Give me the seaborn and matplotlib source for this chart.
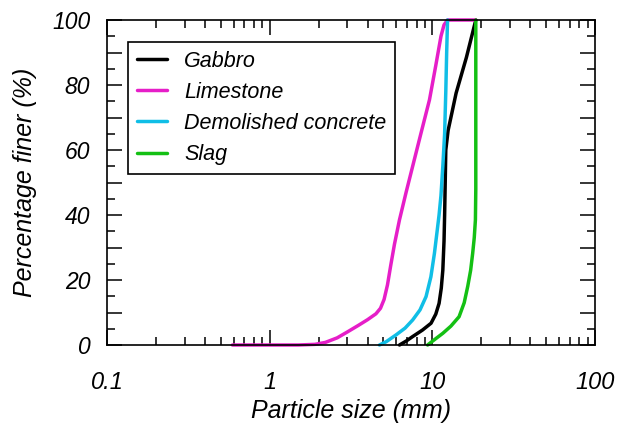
import numpy as np
import pandas as pd
import matplotlib
matplotlib.use("Agg")
import matplotlib.pyplot as plt
from matplotlib.ticker import MultipleLocator, LogLocator, FuncFormatter, NullFormatter
import seaborn as sns

# Grading curves: particle size (mm) vs. percentage finer (%)
materials = ["Gabbro", "Limestone", "Demolished concrete", "Slag"]
colors = ["#000000", "#E61EC8", "#10BEE6", "#14C014"]

gabbro_size = [6.28, 6.9, 7.57, 8.7, 9.82, 10.5, 11.0, 11.35, 11.6, 11.8, 11.9,
               12.0, 12.1, 12.5, 13.2, 14.0, 16.2, 18.5]
gabbro_finer = [0, 1.2, 2.6, 4.6, 6.7, 9.5, 12.8, 17.5, 23, 32, 40,
                50, 60, 66, 71.5, 77.5, 88.5, 100]

limestone_size = [0.59, 1.0, 1.5, 1.9, 2.2, 2.6, 3.0, 3.5, 4.0, 4.5, 4.8, 5.05,
                  5.3, 5.55, 5.85, 6.28, 6.9, 7.57, 8.5, 9.6, 10.5, 11.3, 11.8,
                  12.4, 18.5]
limestone_finer = [0, 0, 0, 0.2, 0.8, 2.2, 4.0, 6.0, 7.8, 9.6, 11.3, 14,
                   18.5, 24.5, 31, 38.5, 47, 55, 65, 75.4, 86, 95, 98.5,
                   100, 100]

concrete_size = [4.73, 5.2, 5.98, 6.8, 7.57, 8.4, 9.15, 9.8, 10.3, 10.7, 11.0,
                 11.3, 11.6, 11.9, 12.1, 12.25, 12.4]
concrete_finer = [0, 1.0, 3.1, 5.2, 7.7, 10.8, 14.9, 21, 28.2, 35, 40,
                  46, 55, 65, 78, 90, 100]

slag_size = [9.35, 10.4, 11.6, 13.0, 14.6, 15.7, 16.5, 17.2, 17.7, 18.1, 18.4,
             18.5, 18.5]
slag_finer = [0, 1.8, 3.6, 5.8, 8.7, 13, 18, 23, 28.2, 33, 38.5, 48, 100]

x_ticks = [0.1, 1, 10, 100]
y_ticks = [0, 20, 40, 60, 80, 100]

frames = []
for name, xs, ys in zip(materials,
                        [gabbro_size, limestone_size, concrete_size, slag_size],
                        [gabbro_finer, limestone_finer, concrete_finer, slag_finer]):
    frames.append(pd.DataFrame({"size": xs, "finer": ys, "material": name}))
df = pd.concat(frames, ignore_index=True)

sns.set_style("ticks")
plt.rcParams["font.family"] = ["Liberation Sans", "DejaVu Sans"]
plt.rcParams["font.style"] = "italic"
plt.rcParams["text.color"] = "black"
plt.rcParams["axes.labelcolor"] = "black"
plt.rcParams["xtick.color"] = "black"
plt.rcParams["ytick.color"] = "black"

fig = plt.figure(figsize=(6.2, 4.25), dpi=100)
ax = fig.add_axes([107 / 620, 1 - 345 / 425, 488 / 620, 325 / 425])

sns.lineplot(data=df, x="size", y="finer", hue="material", hue_order=materials,
             palette=colors, sort=False, estimator=None, linewidth=2.5,
             ax=ax, legend=True)
for line in ax.lines:
    line.set_clip_on(False)
    line.set_solid_joinstyle("round")

ax.set_xscale("log")
ax.set_xlim(0.1, 100)
ax.set_ylim(0, 100)

ax.xaxis.set_major_locator(LogLocator(base=10, numticks=10))
ax.xaxis.set_minor_locator(LogLocator(base=10, subs=np.arange(2, 10), numticks=10))
ax.xaxis.set_major_formatter(FuncFormatter(lambda v, p: f"{v:g}"))
ax.xaxis.set_minor_formatter(NullFormatter())

ax.yaxis.set_major_locator(MultipleLocator(10))
ax.yaxis.set_minor_locator(MultipleLocator(5))
ax.yaxis.set_major_formatter(FuncFormatter(
    lambda v, p: f"{v:g}" if round(v) in y_ticks else ""))

ax.tick_params(which="both", direction="in", top=True, right=True,
               width=1.1, color="black", labelcolor="black")
ax.tick_params(which="major", length=11)
ax.tick_params(which="minor", length=5.5)
ax.tick_params(axis="x", which="both", labelsize=17, pad=19)
ax.tick_params(axis="y", which="both", labelsize=16.5, pad=12)
for lab in ax.get_xticklabels() + ax.get_yticklabels():
    lab.set_fontstyle("italic")

for sp in ax.spines.values():
    sp.set_linewidth(1.2)
    sp.set_color("black")

ax.set_xlabel("Particle size (mm)", fontsize=18, fontstyle="italic", labelpad=3)
ax.set_ylabel("Percentage finer (%)", fontsize=18, fontstyle="italic", labelpad=11)

handles, labels = ax.get_legend_handles_labels()
leg = ax.legend(handles, labels, loc="upper left", bbox_to_anchor=(0.043, 0.932),
                borderaxespad=0, frameon=True, fancybox=False, framealpha=1,
                edgecolor="black", fontsize=15.5, handlelength=1.4,
                handletextpad=0.8, labelspacing=0.47, borderpad=0.4)
leg.get_frame().set_linewidth(1.2)
for t in leg.get_texts():
    t.set_fontstyle("italic")
    t.set_color("black")
for h in leg.legend_handles:
    h.set_linewidth(2.5)

fig.savefig("out.png", dpi=100)
